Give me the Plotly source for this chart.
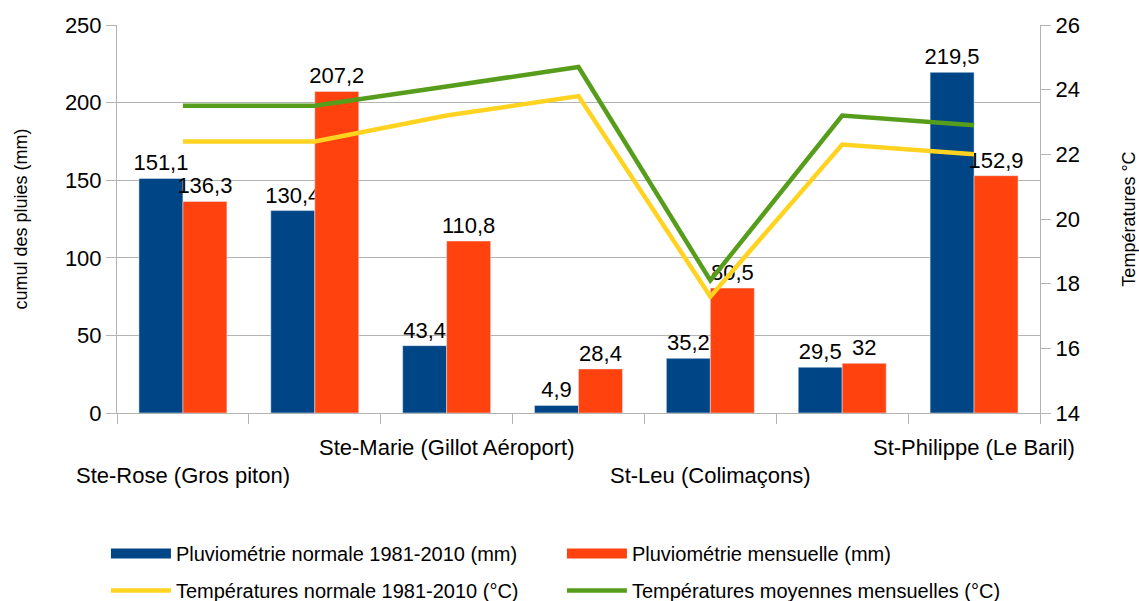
import plotly.graph_objects as go

stations = ["Ste-Rose (Gros piton)", "", "Ste-Marie (Gillot Aéroport)", "",
            "St-Leu (Colimaçons)", "", "St-Philippe (Le Baril)"]
pluvio_normale = [151.1, 130.4, 43.4, 4.9, 35.2, 29.5, 219.5]
pluvio_mensuelle = [136.3, 207.2, 110.8, 28.4, 80.5, 32, 152.9]
temp_normale = [22.4, 22.4, 23.2, 23.8, 17.6, 22.3, 22.0]
temp_mensuelle = [23.5, 23.5, 24.1, 24.7, 18.1, 23.2, 22.9]

names = ["Pluviométrie normale 1981-2010 (mm)", "Pluviométrie mensuelle (mm)",
         "Températures normale 1981-2010 (°C)", "Températures moyennes mensuelles (°C)"]
colors = ["#004586", "#ff420e", "#ffd320", "#579d1c"]

FONT = "Liberation Sans"
GRID = "#b3b3b3"
x = list(range(len(stations)))


def fmt(v):
    return f"{v:g}".replace(".", ",")


fig = go.Figure()
for vals, name, col in [(pluvio_normale, names[0], colors[0]),
                        (pluvio_mensuelle, names[1], colors[1])]:
    fig.add_trace(go.Bar(x=x, y=vals, name=name, marker_color=col,
                         text=[fmt(v) for v in vals], textposition="outside",
                         textfont=dict(size=22, color="black", family=FONT),
                         cliponaxis=False, constraintext="none", showlegend=False))
fig.add_trace(go.Scatter(x=x, y=temp_normale, name=names[2], mode="lines",
                         line=dict(color=colors[2], width=4.5), yaxis="y2",
                         legend="legend2"))
fig.add_trace(go.Scatter(x=x, y=temp_mensuelle, name=names[3], mode="lines",
                         line=dict(color=colors[3], width=4.5), yaxis="y2",
                         legend="legend2"))
# legend keys for the bars (wide rectangles, as in the original)
for name, col in [(names[0], colors[0]), (names[1], colors[1])]:
    fig.add_trace(go.Scatter(x=[None], y=[None], name=name, mode="lines",
                             line=dict(color=col, width=12), legend="legend",
                             hoverinfo="skip"))

# category labels (staggered as in the original)
shown = [i for i, s in enumerate(stations) if s]
for k, i in enumerate(shown):
    lower = (k % 2 == 0)
    fig.add_annotation(x=i, y=0, xref="x", yref="paper", text=stations[i],
                       showarrow=False, yanchor="middle", xanchor="center",
                       yshift=-62 if lower else -34,
                       font=dict(size=22, color="black", family=FONT))

legend_style = dict(orientation="h", xref="container", yref="container",
                    x=0.093, xanchor="left", yanchor="top",
                    entrywidth=381, entrywidthmode="pixels",
                    font=dict(size=20, family=FONT, color="black"),
                    itemwidth=60, traceorder="normal", bgcolor="rgba(0,0,0,0)")

n = len(stations)
fig.update_layout(
    width=1139, height=601,
    margin=dict(l=117, r=99, t=25, b=188, autoexpand=False),
    paper_bgcolor="white", plot_bgcolor="white",
    font=dict(family=FONT, size=20, color="black"),
    barmode="group", bargap=0.333, bargroupgap=0,
    showlegend=True,
    legend=dict(legend_style, y=0.1115),
    legend2=dict(legend_style, y=0.0499),
    xaxis=dict(range=[-0.5, n - 0.5], tickmode="array",
               tickvals=[i - 0.5 for i in range(n + 1)], showticklabels=False,
               ticks="outside", ticklen=10, tickcolor=GRID, tickwidth=1,
               showline=True, linecolor=GRID, showgrid=False, zeroline=False),
    yaxis=dict(range=[0, 250], dtick=50, tick0=0, showgrid=True, gridcolor=GRID,
               showline=True, linecolor=GRID, ticks="outside", ticklen=10,
               tickcolor=GRID, zeroline=False,
               tickfont=dict(size=22, family=FONT, color="black"),
               title=dict(text="cumul des pluies (mm)", standoff=32,
                          font=dict(size=18, family=FONT, color="black"))),
    yaxis2=dict(range=[14, 26], dtick=2, tick0=14, overlaying="y", side="right",
                showgrid=False, showline=True, linecolor=GRID, ticks="outside",
                ticklen=10, tickcolor=GRID, zeroline=False,
                tickfont=dict(size=22, family=FONT, color="black"),
                title=dict(text="Températures °C", standoff=44,
                           font=dict(size=18, family=FONT, color="black"))),
)

fig.write_html("out.html", config={"displayModeBar": False},
               post_script="document.body.style.margin='0';document.body.style.overflow='hidden';")
